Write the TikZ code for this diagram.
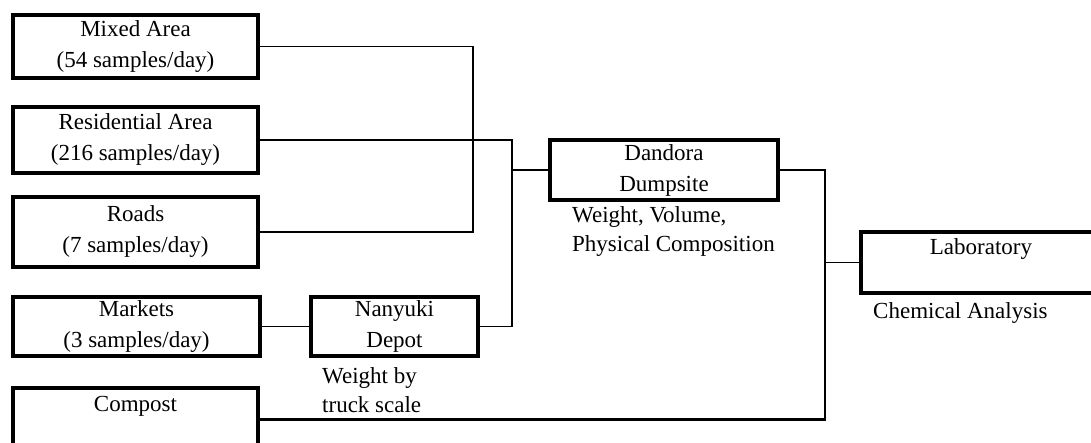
\documentclass[tikz,border=0pt]{standalone}
\usepackage{fontspec}
\setmainfont{Liberation Serif}
\begin{document}
\begin{tikzpicture}[x=1pt,y=-1pt,
  box/.style={draw, line width=3.2pt, rectangle, inner sep=0pt, align=center,
    font=\fontsize{23}{31}\selectfont},
  conn/.style={line width=1.7pt},
  thickconn/.style={line width=2.6pt},
  lbl/.style={inner sep=0pt, align=left, anchor=north west,
    font=\fontsize{23}{29}\selectfont}]
\useasboundingbox (0,0) rectangle (1091,443);

\node[box, minimum width=245pt, minimum height=63pt] (mixed) at (135.5,46.5) {Mixed Area\\(54 samples/day)};
\node[box, minimum width=245pt, minimum height=66pt] (residential) at (135.5,140) {Residential Area\\(216 samples/day)};
\node[box, minimum width=245pt, minimum height=70pt] (roads) at (135.5,232) {Roads\\(7 samples/day)};
\node[box, minimum width=247pt, minimum height=59pt] (markets) at (136.5,326.5) {Markets\\(3 samples/day)};
\node[box, minimum width=245pt, minimum height=63pt] (compost) at (135.5,419.5) {Compost\\\mbox{}};
\node[box, minimum width=167pt, minimum height=59pt] (nanyuki) at (394.5,326.5) {Nanyuki\\Depot};
\node[box, minimum width=228pt, minimum height=60pt] (dandora) at (664,170) {Dandora\\Dumpsite};
\node[box, minimum width=240pt, minimum height=61pt] (lab) at (981,262.5) {Laboratory\\\mbox{}};

\node[lbl] (dlbl) at (572,206) {Weight, Volume,\\Physical Composition};
\node[lbl] (llbl) at (873,302) {Chemical Analysis};
\node[lbl] (nlbl) at (322,367) {Weight by\\truck scale};

\coordinate (j1) at (473,0);
\coordinate (j2) at (512,0);
\coordinate (j3) at (825,0);

\draw[conn] (mixed.east) -- (mixed.east -| j1) |- (roads.east);
\draw[conn] (residential.east) -- (residential.east -| j2) |- (nanyuki.east);
\draw[conn] (dandora.west -| j2) -- (dandora.west);
\draw[conn] (markets.east) -- (nanyuki.west);
\draw[thickconn] (dandora.east) -- (dandora.east -| j3) |- (compost.east);
\draw[conn] (lab.west -| j3) -- (lab.west);
\end{tikzpicture}
\end{document}
